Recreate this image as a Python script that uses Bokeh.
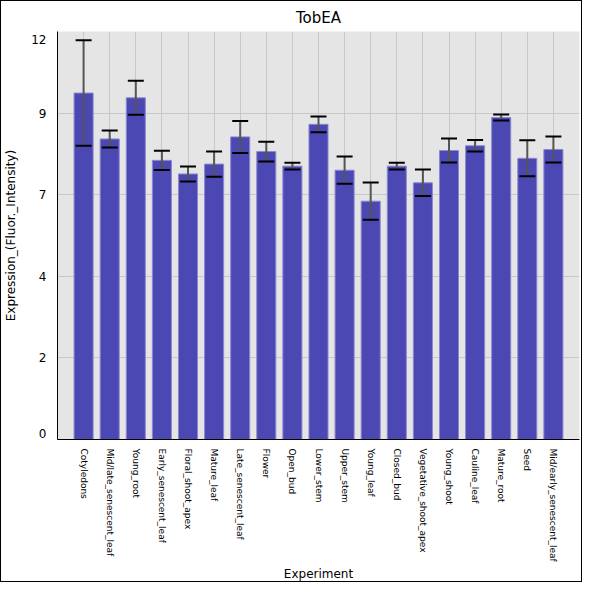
import math
from bokeh.plotting import figure
from bokeh.models import ColumnDataSource, FixedTicker, Range1d
from bokeh.embed import file_html
from bokeh.resources import INLINE

experiments = ["Cotyledons", "Mid/late_senescent_leaf", "Young_root", "Early_senescent_leaf",
               "Floral_shoot_apex", "Mature_leaf", "Late_senescent_leaf", "Flower", "Open_bud",
               "Lower_stem", "Upper_stem", "Young_leaf", "Closed_bud", "Vegetative_shoot_apex",
               "Young_shoot", "Cauline_leaf", "Mature_root", "Seed", "Mid/early_senescent_leaf"]
expression = [10.19, 8.84, 10.05, 8.21, 7.81, 8.10, 8.90, 8.47, 8.04,
              9.27, 7.92, 7.01, 8.04, 7.55, 8.50, 8.64, 9.47, 8.27, 8.53]
error = [1.55, 0.25, 0.50, 0.28, 0.22, 0.37, 0.47, 0.29, 0.10,
         0.23, 0.40, 0.55, 0.10, 0.39, 0.35, 0.17, 0.09, 0.53, 0.38]
y_ticks = [0.0, 2.4, 4.8, 7.2, 9.6, 12.0]
y_tick_labels = ["0", "2", "4", "7", "9", "12"]

xs = list(range(len(experiments)))
src = ColumnDataSource(dict(
    x=xs, top=expression,
    upper=[m + e for m, e in zip(expression, error)],
    lower=[m - e for m, e in zip(expression, error)],
))

p = figure(width=582, height=582, output_backend="svg", toolbar_location=None,
           title="TobEA", x_range=Range1d(-1, len(experiments)), y_range=Range1d(0, 12),
           min_border_left=10, min_border_right=4, min_border_top=18, min_border_bottom=4)
p.styles = {"border": "1px solid black"}
p.title.align = "center"
p.title.text_font = "DejaVu Sans"
p.title.text_font_size = "15px"
p.title.text_font_style = "normal"
p.title.text_color = "black"
p.background_fill_color = "#e5e5e5"
p.border_fill_color = "white"
p.outline_line_color = None

p.vbar(x="x", top="top", width=0.73, source=src, fill_color="#4b47b3",
       line_color="#8b89cf", line_width=1)

# error bars: stem + caps
p.segment(x0="x", y0="lower", x1="x", y1="upper", source=src,
          line_color="#555555", line_width=2)
p.scatter(x="x", y="upper", source=src, marker="dash", size=16,
          line_color="black", line_width=2)
p.scatter(x="x", y="lower", source=src, marker="dash", size=16,
          line_color="black", line_width=2)

# y axis
p.yaxis.ticker = FixedTicker(ticks=[0.17, 2.4, 4.8, 7.2, 9.6, 11.77])
p.yaxis.major_label_overrides = {0.17: "0", 2.4: "2", 4.8: "4", 7.2: "7", 9.6: "9", 11.77: "12"}
p.ygrid.ticker = FixedTicker(ticks=y_ticks)
p.yaxis.axis_label = "Expression_(Fluor._Intensity)"
p.yaxis.major_tick_line_color = None
p.yaxis.minor_tick_line_color = None
p.yaxis.axis_line_color = "black"
p.yaxis.major_label_text_font = "DejaVu Sans"
p.yaxis.major_label_text_font_size = "12px"
p.yaxis.major_label_text_color = "black"
p.yaxis.axis_label_text_font = "DejaVu Sans"
p.yaxis.axis_label_text_font_size = "12px"
p.yaxis.axis_label_text_font_style = "normal"
p.yaxis.axis_label_text_color = "black"
p.yaxis.axis_label_standoff = 10

# x axis
p.xaxis.ticker = FixedTicker(ticks=xs)
p.xaxis.major_label_overrides = {i: n for i, n in zip(xs, experiments)}
p.xgrid.ticker = FixedTicker(ticks=xs)
p.xaxis.major_label_orientation = -math.pi / 2
p.xaxis.major_label_standoff = 3
p.xaxis.axis_label = "Experiment"
p.xaxis.major_tick_line_color = None
p.xaxis.minor_tick_line_color = None
p.xaxis.axis_line_color = "black"
p.xaxis.major_label_text_font = "DejaVu Sans"
p.xaxis.major_label_text_font_size = "9px"
p.xaxis.major_label_text_color = "black"
p.xaxis.axis_label_text_font = "DejaVu Sans"
p.xaxis.axis_label_text_font_size = "12px"
p.xaxis.axis_label_text_font_style = "normal"
p.xaxis.axis_label_text_color = "black"
p.xaxis.axis_label_standoff = 2

p.grid.grid_line_color = "#c8c8c8"
p.grid.grid_line_width = 1

open("out.html", "w").write(file_html(p, INLINE))
